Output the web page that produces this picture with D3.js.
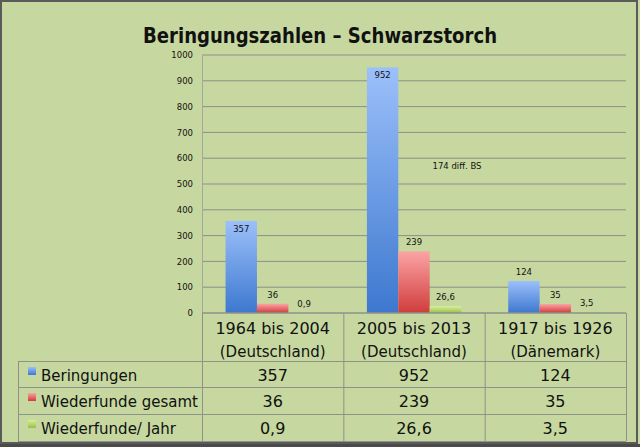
<!DOCTYPE html>
<html>
<head>
<meta charset="utf-8">
<script src="https://cdn.jsdelivr.net/npm/d3@7"></script>
<style>
  body { margin: 0; background: #c6d89f; }
  svg { display: block; }
</style>
</head>
<body>
<svg id="chart" width="640" height="447"></svg>
<script>
      // data
      var categories  = ["1964 bis 2004", "2005 bis 2013", "1917 bis 1926"];
      var regions     = ["(Deutschland)", "(Deutschland)", "(Dänemark)"];
      var seriesNames = ["Beringungen", "Wiederfunde gesamt", "Wiederfunde/ Jahr"];
      var beringungen = [357, 952, 124];
      var wiederfunde = [36, 239, 35];
      var proJahr     = [0.9, 26.6, 3.5];
      var yTicks      = [0, 100, 200, 300, 400, 500, 600, 700, 800, 900, 1000];
      var titleText   = "Beringungszahlen – Schwarzstorch";
      var noteText    = "174 diff. BS";

      var values = [beringungen, wiederfunde, proJahr];
      var colTop    = ["#9cc0fa", "#fba4a4", "#d8ee9e"];
      var colBottom = ["#3d78cf", "#d03c3c", "#98c046"];
      var fontMain  = "'DejaVu Sans', sans-serif";

      var svg = d3.select("#chart");
      var width = 640, height = 447;
      var margin = {top: 55, left: 202, right: 14, axis: 313};
      var tableLeft = 18;
      var rowTops = [361, 387, 414, 441];

      // frame
      svg.append("rect").attr("x", 0).attr("y", 0).attr("width", width).attr("height", height)
         .style("fill", "#c6d89f");
      svg.append("rect").attr("x", 0).attr("y", 444).attr("width", width).attr("height", 3)
         .style("fill", "#4a4a4a");
      svg.append("rect").attr("x", 1).attr("y", 1).attr("width", 636).attr("height", 442)
         .style("fill", "none").style("stroke", "#5a5a5a").style("stroke-width", 2);

      // gradients
      var defs = svg.append("defs");
      colTop.forEach(function(c, i) {
        var g = defs.append("linearGradient").attr("id", "grad" + i)
                    .attr("x1", 0).attr("y1", 0).attr("x2", 0).attr("y2", 1);
        g.append("stop").attr("offset", "0%").attr("stop-color", c);
        g.append("stop").attr("offset", "100%").attr("stop-color", colBottom[i]);
      });

      // scales
      var x0 = d3.scaleBand().domain(categories).range([margin.left, width - margin.right]);
      var x1 = d3.scaleBand().domain(seriesNames).range([0, x0.bandwidth()]).paddingOuter(0.75);
      var y  = d3.scaleLinear().domain([0, 1000]).range([margin.axis, margin.top]);

      // title
      svg.append("text").attr("x", 320).attr("y", 43).text(titleText)
         .attr("textLength", 354).attr("lengthAdjust", "spacingAndGlyphs")
         .style("font-family", "'DejaVu Sans', sans-serif").style("font-weight", "bold")
         .style("font-size", "22px").style("fill", "#111").style("text-anchor", "middle");

      // gridlines
      svg.append("g").selectAll("line").data(yTicks.slice(1)).enter().append("line")
         .attr("x1", margin.left).attr("x2", width - margin.right)
         .attr("y1", function(d) { return y(d); }).attr("y2", function(d) { return y(d); })
         .style("stroke", "#8c8f8a").style("stroke-width", 1);

      // y axis
      var yAxis = svg.append("g").attr("transform", "translate(" + margin.left + ",0)")
         .call(d3.axisLeft(y).tickValues(yTicks).tickFormat(d3.format("d")).tickSize(0).tickPadding(9));
      yAxis.select(".domain").style("stroke", "#a3a89c");
      yAxis.selectAll("text").style("font-family", fontMain).style("font-size", "8.5px")
         .style("fill", "#111");

      // bars
      var groups = svg.append("g").selectAll("g").data(categories).enter().append("g")
         .attr("transform", function(d) { return "translate(" + x0(d) + ",0)"; });
      groups.selectAll("rect").data(function(d, ci) {
          return seriesNames.map(function(s, si) { return {s: s, si: si, v: values[si][ci]}; });
        }).enter().append("rect")
         .attr("x", function(d) { return x1(d.s); })
         .attr("y", function(d) { return y(d.v); })
         .attr("width", x1.bandwidth())
         .attr("height", function(d) { return y(0) - y(d.v); })
         .style("fill", function(d) { return "url(#grad" + d.si + ")"; });

      // data labels (tall blue bars carry the label inside the top)
      groups.selectAll("text").data(function(d, ci) {
          return seriesNames.map(function(s, si) { return {s: s, si: si, v: values[si][ci]}; });
        }).enter().append("text")
         .attr("x", function(d) { return x1(d.s) + x1.bandwidth() / 2; })
         .attr("y", function(d) { return d.v > 300 ? y(d.v) + 11 : y(d.v) - 6; })
         .text(function(d) { return String(d.v).replace(".", ","); })
         .style("font-family", fontMain).style("font-size", "8.5px")
         .style("fill", "#111").style("text-anchor", "middle");

      // note
      svg.append("text").attr("x", 457).attr("y", 169).text(noteText)
         .style("font-family", fontMain).style("font-size", "8.5px")
         .style("fill", "#111").style("text-anchor", "middle");

      // data table
      var lineCol = "#8e928a";
      var tbl = svg.append("g");
      var colEdges = categories.map(function(c) { return x0(c); }).concat([width - margin.right]);
      tbl.append("line").attr("x1", margin.left).attr("x2", width - margin.right)
         .attr("y1", margin.axis).attr("y2", margin.axis)
         .style("stroke", lineCol).style("stroke-width", 1.5);
      rowTops.forEach(function(r) {
        tbl.append("line").attr("x1", tableLeft).attr("x2", width - margin.right)
           .attr("y1", r + 0.5).attr("y2", r + 0.5).style("stroke", lineCol);
      });
      colEdges.forEach(function(cx) {
        tbl.append("line").attr("x1", cx + 0.5).attr("x2", cx + 0.5)
           .attr("y1", margin.axis).attr("y2", rowTops[3]).style("stroke", lineCol);
      });
      tbl.append("line").attr("x1", tableLeft + 0.5).attr("x2", tableLeft + 0.5)
         .attr("y1", rowTops[0]).attr("y2", rowTops[3]).style("stroke", lineCol);

      // category header
      categories.forEach(function(c, i) {
        var cx = x0(c) + x0.bandwidth() / 2;
        tbl.append("text").attr("x", cx).attr("y", 334).text(c)
           .style("font-family", fontMain).style("font-size", "16px")
           .style("fill", "#111").style("text-anchor", "middle");
        tbl.append("text").attr("x", cx).attr("y", 357).text(regions[i])
           .style("font-family", fontMain).style("font-size", "15px")
           .style("fill", "#111").style("text-anchor", "middle");
      });

      // rows
      seriesNames.forEach(function(s, si) {
        var top = rowTops[si];
        tbl.append("rect").attr("x", 28).attr("y", top + 6).attr("width", 8).attr("height", 8)
           .style("fill", "url(#grad" + si + ")");
        tbl.append("text").attr("x", 41).attr("y", top + 20).text(s)
           .style("font-family", fontMain).style("font-size", "15px")
           .style("fill", "#111");
        categories.forEach(function(c, ci) {
          tbl.append("text").attr("x", x0(c) + x0.bandwidth() / 2).attr("y", top + 20)
             .text(String(values[si][ci]).replace(".", ","))
             .style("font-family", fontMain).style("font-size", "16px")
             .style("fill", "#111").style("text-anchor", "middle");
        });
      });
</script>
</body>
</html>
